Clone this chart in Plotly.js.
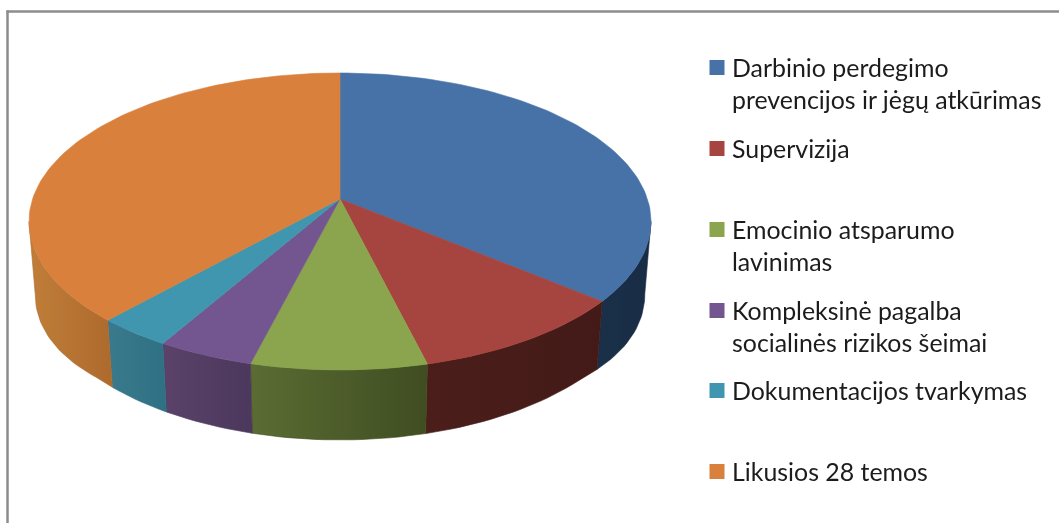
<!DOCTYPE html>
<html>
<head>
<meta charset="utf-8">
<script src="https://cdn.plot.ly/plotly-3.0.1.min.js"></script>
<style>html,body{margin:0;padding:0;background:#fff;overflow:hidden}#chart{width:1059px;height:523px;filter:blur(0.35px)}</style>
</head>
<body>
<div id="chart"></div>
<script>
// Data (share of the pie, %)
const categories = ["Darbinio perdegimo prevencijos ir jėgų atkūrimas","Supervizija","Emocinio atsparumo lavinimas","Kompleksinė pagalba socialinės rizikos šeimai","Dokumentacijos tvarkymas","Likusios 28 temos"];
const values = [36.0, 10.1, 7.9, 4.35, 3.35, 38.3];
const labelLines = [["Darbinio perdegimo","prevencijos ir jėgų atkūrimas"],["Supervizija"],["Emocinio atsparumo","lavinimas"],["Kompleksinė pagalba","socialinės rizikos šeimai"],["Dokumentacijos tvarkymas"],["Likusios 28 temos"]];
const topColors = ["#4672a8","#a6443f","#8aa54e","#735590","#4096ae","#d9803c"];
const wallLeft  = ["#1a3049","#4b1e1a","#5b6c33","#5a4269","#3a7a8c","#c07e39"];
const wallRight = ["#182c44","#431a18","#3f4d21","#4c385c","#2f7084","#ad6a2d"];
const legendY = [67.5,148.5,229.5,310.5,390.5,471.5];

// Projection of the tilted disc onto the canvas
const cx=340, cy=199, R=307.4, S=145.1, K=0.1515;
function topPt(deg){const t=deg*Math.PI/180,u=Math.sin(t),v=Math.cos(t),w=1+K*v;return [cx+R*u/w, cy-S*v/w];}
function basePt(deg){
  const p=topPt(deg), side=Math.abs(Math.sin(deg*Math.PI/180));
  const extra=12*Math.max(0,(side-0.72)/0.28);
  return [cx+(p[0]-cx)*0.98, p[1]+60+0.058*(p[1]-cy)+extra];
}
function arc(fn,a,b){const n=Math.max(2,Math.ceil((b-a)/1.5)),o=[];for(let i=0;i<=n;i++)o.push(fn(a+(b-a)*i/n));return o;}

const total=values.reduce((s,v)=>s+v,0);
let acc=0;
const slices=values.map(v=>{const a=acc;acc+=v/total*360;return [a,acc];});

const traces=[];
// side walls: only the visible front part, between the two silhouette tangents
const tangent=Math.acos(-K)*180/Math.PI;
slices.forEach(([a,b],i)=>{
  const s=Math.max(a,tangent), e=Math.min(b,360-tangent);
  if(e<=s) return;
  const pts=arc(topPt,s,e).concat(arc(basePt,s,e).reverse());
  pts.push(pts[0]);
  traces.push({type:"scatter",mode:"lines",x:pts.map(p=>p[0]),y:pts.map(p=>p[1]),fill:"toself",
    line:{width:0.6,color:wallRight[i]},
    fillgradient:{type:"horizontal",colorscale:[[0,wallLeft[i]],[1,wallRight[i]]]},
    hoverinfo:"skip",showlegend:false});
});
// top surface
slices.forEach(([a,b],i)=>{
  const pts=[[cx,cy]].concat(arc(topPt,a,b));
  pts.push([cx,cy]);
  traces.push({type:"scatter",mode:"lines",name:categories[i],x:pts.map(p=>p[0]),y:pts.map(p=>p[1]),fill:"toself",
    fillcolor:topColors[i],line:{width:0.6,color:topColors[i]},hoverinfo:"name",showlegend:false});
});
// legend swatches
traces.push({type:"scatter",mode:"markers",x:legendY.map(()=>717),y:legendY,
  marker:{symbol:"square",size:15,color:topColors,line:{width:0}},hoverinfo:"skip",showlegend:false});

const annotations=[];
labelLines.forEach((lines,i)=>lines.forEach((t,j)=>annotations.push({
  x:729.5,y:legendY[i]+j*32-1,xref:"x",yref:"y",text:t,showarrow:false,xanchor:"left",yanchor:"middle",align:"left",
  font:{family:"Lato, 'Open Sans', sans-serif",size:24.9,color:"#1c1c1c"}})));

const frame="#8c8c8c";
const layout={width:1059,height:523,margin:{l:0,r:0,t:0,b:0},paper_bgcolor:"#fff",plot_bgcolor:"#fff",showlegend:false,
  xaxis:{range:[0,1059],visible:false,fixedrange:true},
  yaxis:{range:[523,0],visible:false,fixedrange:true},
  annotations,
  shapes:[
    {type:"line",xref:"x",yref:"y",x0:6.5,x1:1059,y0:11.5,y1:11.5,line:{color:frame,width:2.5},layer:"below"},
    {type:"line",xref:"x",yref:"y",x0:7.5,x1:7.5,y0:10.5,y1:523,line:{color:frame,width:2.5},layer:"below"}
  ]};
Plotly.newPlot("chart",traces,layout,{displayModeBar:false,staticPlot:true});
</script>
</body>
</html>
